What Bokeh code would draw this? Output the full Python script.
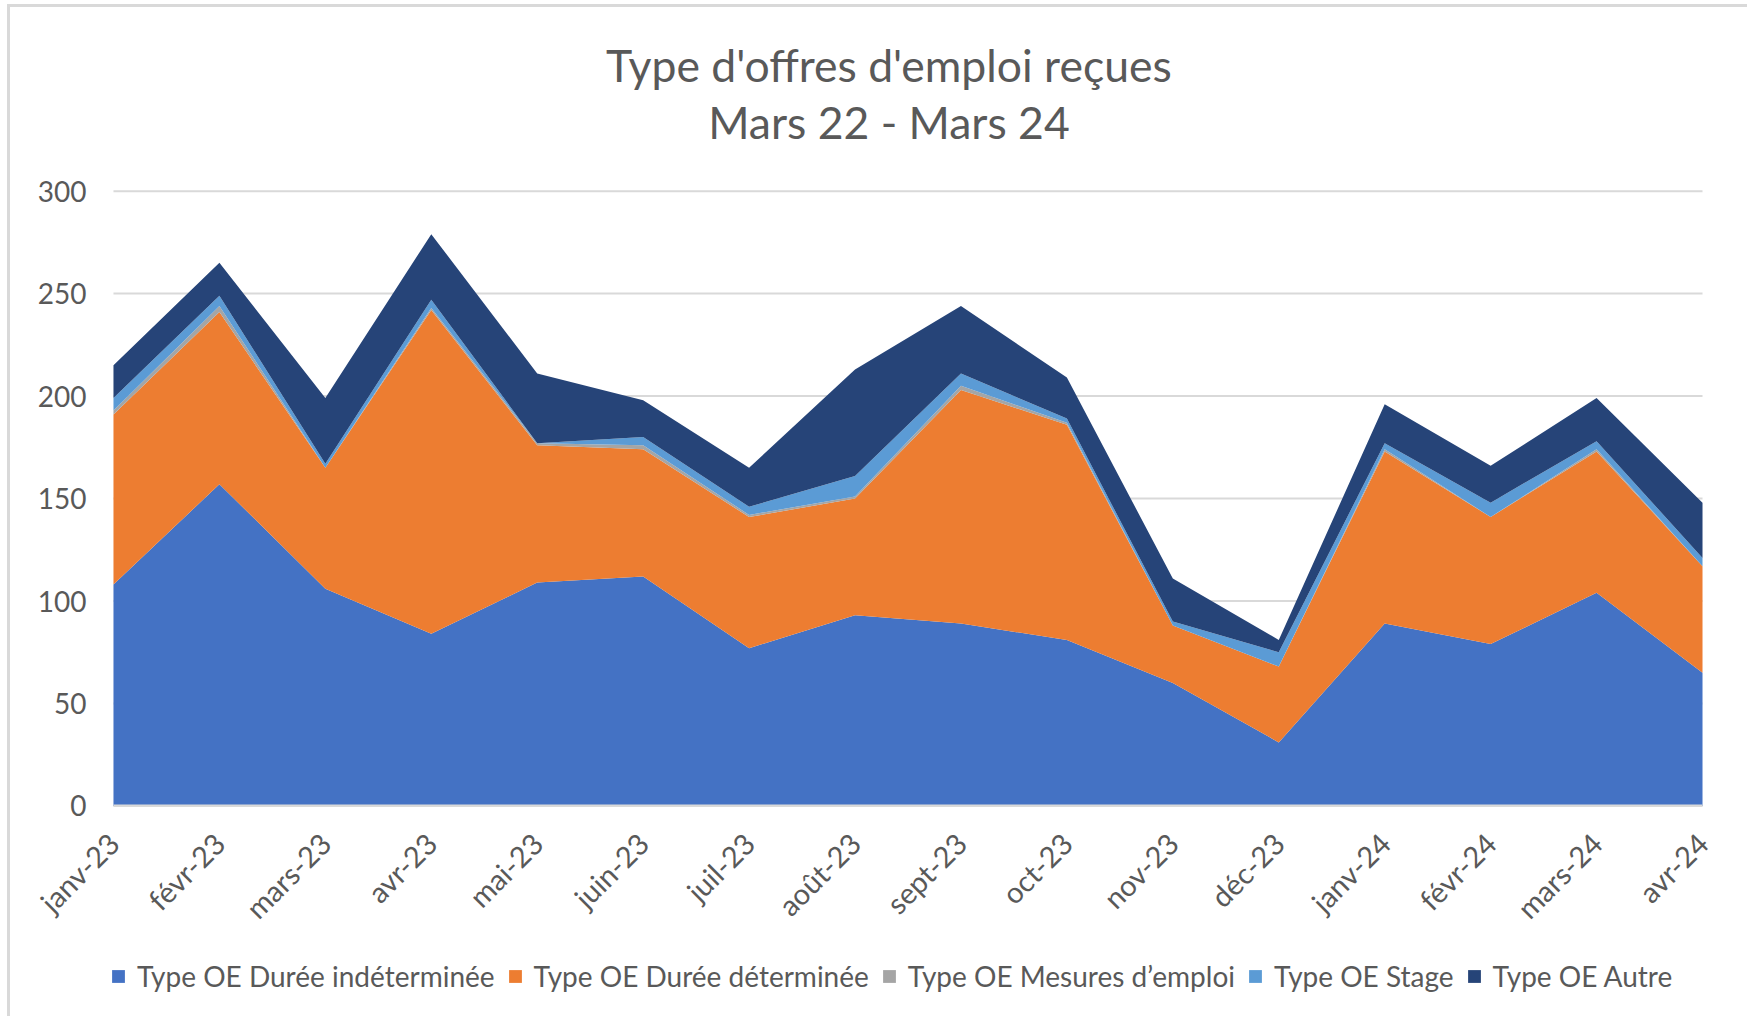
import math
from bokeh.plotting import figure
from bokeh.models import ColumnDataSource, Range1d, FixedTicker, Legend, LegendItem
from bokeh.core.properties import value
from bokeh.embed import file_html
from bokeh.resources import INLINE

# ---------------- data ----------------
months = ["janv-23", "févr-23", "mars-23", "avr-23", "mai-23", "juin-23", "juil-23", "août-23",
          "sept-23", "oct-23", "nov-23", "déc-23", "janv-24", "févr-24", "mars-24", "avr-24"]
duree_indeterminee = [108, 157, 106, 84, 109, 112, 77, 93, 89, 81, 60, 31, 89, 79, 104, 65]
duree_determinee   = [83, 84, 59, 158, 67, 62, 64, 57, 114, 105, 28, 37, 84, 62, 69, 52]
mesures_emploi     = [2, 3, 0, 1, 1, 2, 1, 1, 2, 1, 0, 0, 1, 0, 1, 0]
stage              = [6, 5, 2, 4, 0, 4, 4, 10, 6, 2, 2, 7, 3, 7, 4, 4]
autre              = [16, 16, 32, 32, 34, 18, 19, 52, 33, 20, 21, 6, 19, 18, 21, 27]

series_names = ["Type OE Durée indéterminée", "Type OE Durée déterminée",
                "Type OE Mesures d’emploi", "Type OE Stage", "Type OE Autre"]
colors = ["#4472C4", "#ED7D31", "#A5A5A5", "#5B9BD5", "#264478"]
y_ticks = [0, 50, 100, 150, 200, 250, 300]
title_lines = ["Type d'offres d'emploi reçues", "Mars 22 - Mars 24"]

# ---------------- figure ----------------
TEXT = "#595959"
GRID = "#D9D9D9"
FONT = "Lato"

xs = list(range(len(months)))
x_first, x_last = 0, len(months) - 1
source = ColumnDataSource(dict(x=xs, s0=duree_indeterminee, s1=duree_determinee,
                               s2=mesures_emploi, s3=stage, s4=autre))

W, H = 1740, 1012
p = figure(width=W, height=H, output_backend="svg", toolbar_location=None,
           x_range=Range1d(-0.972, 15.453), y_range=Range1d(-104.2, 389.6),
           min_border_left=0, min_border_right=0, min_border_top=0, min_border_bottom=0)
p.styles = {"border-left": "3px solid #D9D9D9", "border-top": "3px solid #D9D9D9",
            "margin-left": "7px", "margin-top": "4px"}
p.outline_line_color = None
p.background_fill_color = "white"
p.border_fill_color = "white"

# horizontal gridlines spanning the plotted months only
p.xgrid.visible = False
p.ygrid.visible = False
p.segment(x0=[x_first] * len(y_ticks), x1=[x_last] * len(y_ticks), y0=y_ticks, y1=y_ticks,
          line_color=GRID, line_width=2, level="underlay")

renderers = p.varea_stack(stackers=["s0", "s1", "s2", "s3", "s4"], x="x",
                          color=colors, source=source)

# titles
p.text(x=[7.32, 7.32], y=[361.9, 334.1], text=title_lines,
       text_font=value(FONT), text_font_size="44.5px", text_color=TEXT,
       text_align="center", text_baseline="middle")

# y axis, drawn at the first month
p.yaxis.fixed_location = x_first
p.yaxis.ticker = FixedTicker(ticks=y_ticks)
p.yaxis.axis_line_color = None
p.yaxis.major_tick_line_color = None
p.yaxis.minor_tick_line_color = None
p.yaxis.major_label_text_font = FONT
p.yaxis.major_label_text_font_size = "28px"
p.yaxis.major_label_text_color = TEXT
p.yaxis.major_label_standoff = 21

# x axis, drawn at y = 0
p.xaxis.fixed_location = 0
p.xaxis.bounds = (x_first, x_last)
p.xaxis.ticker = FixedTicker(ticks=xs)
p.xaxis.major_label_overrides = {i: m for i, m in enumerate(months)}
p.xaxis.major_label_orientation = math.pi / 4
p.xaxis.axis_line_color = GRID
p.xaxis.axis_line_width = 2
p.xaxis.major_tick_line_color = None
p.xaxis.minor_tick_line_color = None
p.xaxis.major_label_text_font = FONT
p.xaxis.major_label_text_font_size = "29px"
p.xaxis.major_label_text_color = TEXT
p.xaxis.major_label_standoff = 26

# legend
items = [LegendItem(label=n, renderers=[r]) for n, r in zip(series_names, renderers)]
legend = Legend(items=items, orientation="horizontal", location=(100, 26),
                label_text_font=FONT, label_text_font_size="28px", label_text_color=TEXT,
                glyph_width=16, glyph_height=16, label_standoff=11, spacing=12,
                padding=0, margin=0, border_line_color=None, background_fill_alpha=0)
p.add_layout(legend)

open("out.html", "w").write(file_html(p, INLINE))
